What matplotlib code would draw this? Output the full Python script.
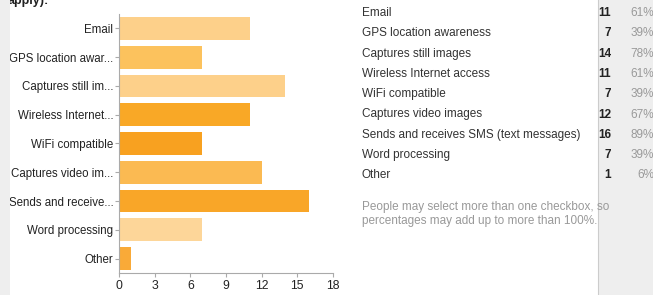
import matplotlib.pyplot as plt
from matplotlib.patches import Rectangle

plt.rcParams['font.family'] = ['Liberation Sans', 'DejaVu Sans']

short_labels = ["Email", "GPS location awar...", "Captures still im...", "Wireless Internet...",
                "WiFi compatible", "Captures video im...", "Sends and receive...",
                "Word processing", "Other"]
full_labels = ["Email", "GPS location awareness", "Captures still images",
               "Wireless Internet access", "WiFi compatible", "Captures video images",
               "Sends and receives SMS (text messages)", "Word processing", "Other"]
counts = [11, 7, 14, 11, 7, 12, 16, 7, 1]
percents = ["61%", "39%", "78%", "61%", "39%", "67%", "89%", "39%", "6%"]
bar_colors = ["#fdd08a", "#fcc25d", "#fdd08a", "#f9a826", "#f8a120",
              "#fbba52", "#f9a628", "#fdd699", "#f9aa38"]
xticks = [0, 3, 6, 9, 12, 15, 18]

fig = plt.figure(figsize=(6.53, 2.95), dpi=100)
W, H = 653, 295

# ----------------------------- bar chart (left) ----------------------------- #
ax = fig.add_axes([119 / W, 1 - 273 / H, (333 - 119) / W, (273 - 14) / H])
ypos = list(range(len(counts)))
ax.barh(ypos, counts, height=0.79, color=bar_colors)
ax.set_ylim(len(counts) - 0.5, -0.5)
ax.set_xlim(0, 18)
ax.set_xticks(xticks)
ax.set_yticks(ypos)
ax.set_yticklabels(short_labels)
for s in ["top", "right"]:
    ax.spines[s].set_visible(False)
for s in ["left", "bottom"]:
    ax.spines[s].set_color("#aaaaaa")
    ax.spines[s].set_linewidth(0.8)
ax.tick_params(axis="y", length=3, color="#aaaaaa", labelsize=8.3, labelcolor="#222222", pad=1)
ax.tick_params(axis="x", length=3, color="#aaaaaa", labelsize=8.8, labelcolor="#222222", pad=2)

# gray strip on far left, clipping the labels
fig.patches.append(Rectangle((0, 0), 10 / W, 1, transform=fig.transFigure,
                             facecolor="#eeeeee", edgecolor="none", zorder=10))
fig.text(8 / W, 1 + 5 / H, "apply):", fontsize=9, fontweight="bold", va="top",
         ha="left", color="#222222", zorder=9)

# ------------------------------- table (right) ------------------------------ #
fig.patches.append(Rectangle((598 / W, 0), (W - 598) / W, 1, transform=fig.transFigure,
                             facecolor="#eeeeee", edgecolor="none", zorder=0))
fig.add_artist(plt.Line2D([598 / W, 598 / W], [0, 1], color="#cccccc", lw=0.8))

row_y0 = 13
row_step = 20.3
for i, (lab, c, p) in enumerate(zip(full_labels, counts, percents)):
    y = 1 - (row_y0 + i * row_step) / H
    fig.text(362 / W, y, lab, fontsize=8.5, color="#333333", va="center", ha="left")
    fig.text(611 / W, y, str(c), fontsize=8.5, fontweight="bold", color="#222222",
             va="center", ha="right")
    fig.text(654 / W, y, p, fontsize=8.5, color="#999999", va="center", ha="right")

fig.text(362 / W, 1 - 207 / H, "People may select more than one checkbox, so",
         fontsize=8.5, color="#999999", va="center", ha="left")
fig.text(362 / W, 1 - 221 / H, "percentages may add up to more than 100%.",
         fontsize=8.5, color="#999999", va="center", ha="left")

fig.savefig("out.png", dpi=100)
